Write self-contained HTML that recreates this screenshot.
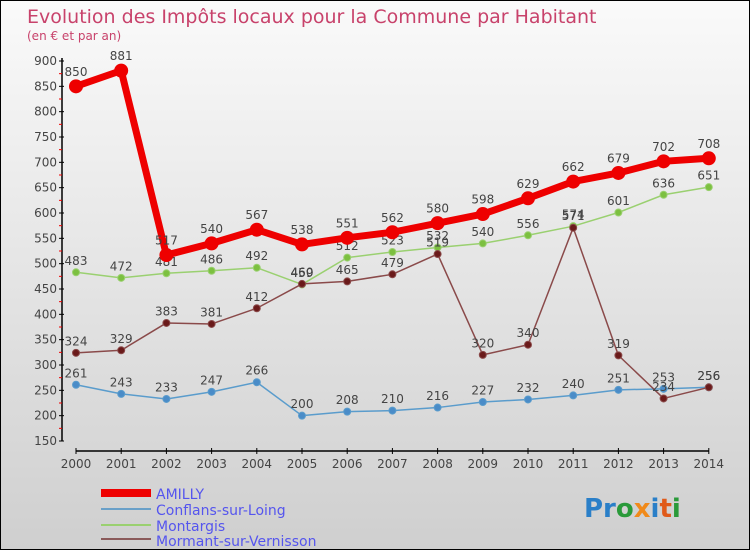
<!DOCTYPE html>
<html><head><meta charset="utf-8"><style>
body{margin:0;}
#c{width:750px;height:550px;position:relative;box-sizing:border-box;border:1px solid #000;background:linear-gradient(#fafafa,#cfcfcf);font-family:"DejaVu Sans","Liberation Sans",sans-serif;overflow:hidden}
svg text{font-family:"DejaVu Sans","Liberation Sans",sans-serif}
</style></head><body>
<div id="c">
<svg id="s" width="750" height="550">
<text x="26" y="22" font-size="19" fill="#c8426b">Evolution des Impôts locaux pour la Commune par Habitant</text>
<text x="26" y="39" font-size="12" fill="#c8426b">(en € et par an)</text>
<g id="axes"></g><g id="series"></g>
<g>
<rect x="100" y="488" width="50" height="8" fill="#e00"/>
<text x="155" y="498" font-size="14" fill="#5555ee">AMILLY</text>
<rect x="100" y="507" width="50" height="2" fill="#6aa0c8"/>
<text x="155" y="514" font-size="14" fill="#5555ee">Conflans-sur-Loing</text>
<rect x="100" y="523" width="50" height="2" fill="#9ad070"/>
<text x="155" y="530" font-size="14" fill="#5555ee">Montargis</text>
<rect x="100" y="537" width="50" height="2" fill="#8a5a5a"/>
<text x="155" y="545" font-size="14" fill="#5555ee">Mormant-sur-Vernisson</text>
</g>
<text x="583" y="516" font-size="26" font-weight="bold"><tspan fill="#2a7fc8">Pr</tspan><tspan fill="#2a9a3a">o</tspan><tspan fill="#f08a1a">x</tspan><tspan fill="#2a7fc8">i</tspan><tspan fill="#e05a1a">t</tspan><tspan fill="#2a9a3a">i</tspan></text>
</svg></div>
<script>
const years=[2000,2001,2002,2003,2004,2005,2006,2007,2008,2009,2010,2011,2012,2013,2014];
const amilly=[850,881,517,540,567,538,551,562,580,598,629,662,679,702,708];
const conflans=[261,243,233,247,266,200,208,210,216,227,232,240,251,253,256];
const montargis=[483,472,481,486,492,459,512,523,532,540,556,574,601,636,651];
const mormant=[324,329,383,381,412,460,465,479,519,320,340,571,319,234,256];
const yTicks=[150,200,250,300,350,400,450,500,550,600,650,700,750,800,850,900];
const NS="http://www.w3.org/2000/svg";
function X(i){return 75+i*45.2}
function Y(v){return 440-(v-150)*380/750}
function mk(t,a,p){const e=document.createElementNS(NS,t);for(const k in a)e.setAttribute(k,a[k]);p.appendChild(e);return e}
const ax=document.getElementById('axes');
let e=mk('line',{x1:61,y1:57,x2:61,y2:440,stroke:'#000','stroke-width':1.5},ax);

e=mk('line',{x1:75,y1:450,x2:708,y2:450,stroke:'#000','stroke-width':1.5},ax);

yTicks.forEach(v=>{mk('line',{x1:58,y1:Y(v),x2:63,y2:Y(v),stroke:'#000'},ax);
 if(v<900)mk('line',{x1:58,y1:Y(v+25),x2:61,y2:Y(v+25),stroke:'#e00'},ax);
 const t=mk('text',{x:56,y:Y(v)+4,'font-size':12,fill:'#444','text-anchor':'end'},ax);t.textContent=v;
 });
years.forEach((y,i)=>{mk('line',{x1:X(i),y1:447,x2:X(i),y2:453,stroke:'#000'},ax);
 const t=mk('text',{x:X(i),y:467,'font-size':12,fill:'#444','text-anchor':'middle'},ax);t.textContent=y;
 });
const sg=document.getElementById('series');
function series(data,name,col,dot,w,r){
 const g=mk('g',{},sg);
 mk('polyline',{points:data.map((v,i)=>X(i)+','+Y(v)).join(' '),fill:'none',stroke:col,'stroke-width':w,'stroke-linejoin':'round'},g);
 data.forEach((v,i)=>{const c=mk('circle',{cx:X(i),cy:Y(v),r:r,fill:dot,stroke:col,'stroke-width':1},g);
  
  const t=mk('text',{x:X(i),y:Y(v)-r-4,'font-size':12,fill:'#444','text-anchor':'middle'},g);t.textContent=v;
  });
}
series(conflans,'conflans','#5a9ccc','#4a8cc8',1.5,3.5);
series(montargis,'montargis','#9ad070','#7cc040',1.5,3.5);
series(mormant,'mormant','#8a4a4a','#6a1a1a',1.5,3.5);
series(amilly,'amilly','#ee0000','#ee0000',7,6.5);
</script>
</body></html>
